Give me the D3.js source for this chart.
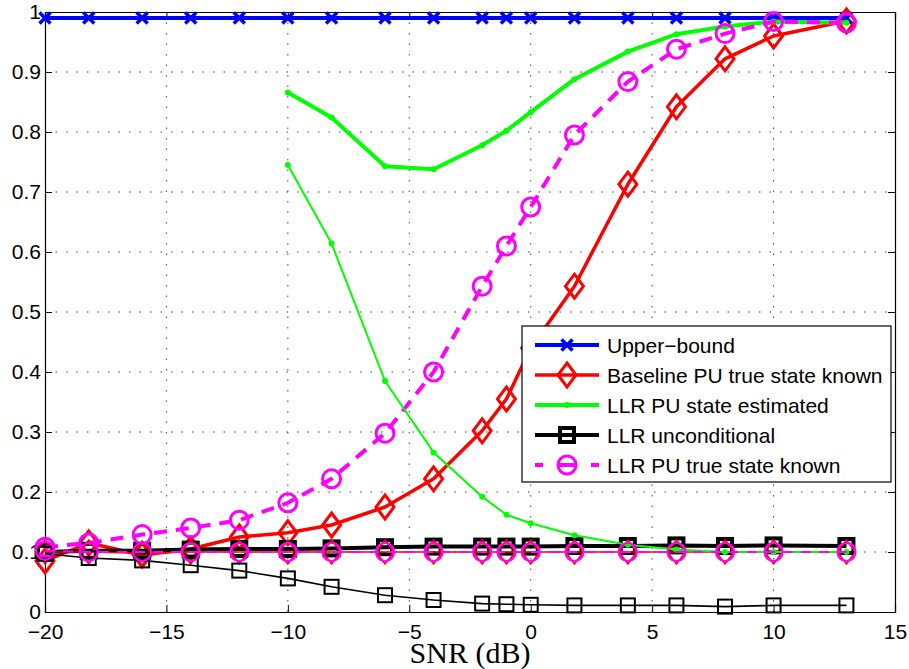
<!DOCTYPE html>
<html>
<head>
<meta charset="utf-8">
<script src="https://cdn.jsdelivr.net/npm/d3@7"></script>
<style>
  body { margin: 0; background: #fff; }
  svg { display: block; }
</style>
</head>
<body>
<div id="viz"></div>
<script>
const w = 909;
const h = 669;

// data
const snr = [-20, -18.2, -16, -14, -12, -10, -8.2, -6, -4, -2, -1, 0, 1.8, 4, 6, 8, 10, 13];
const snrEst = [-10, -8.2, -6, -4, -2, -1, 0, 1.8, 4, 6, 8, 10, 13];

const upperBound = [0.99, 0.99, 0.99, 0.99, 0.99, 0.99, 0.99, 0.99, 0.99, 0.99, 0.99, 0.99, 0.99, 0.99, 0.99, 0.99, 0.99, 0.99];
const baselineKnown = [0.085, 0.115, 0.095, 0.105, 0.125, 0.132, 0.145, 0.175, 0.222, 0.302, 0.355, 0.44, 0.543, 0.713, 0.842, 0.922, 0.96, 0.985];
const baselineKnownFa = [0.1, 0.1, 0.098, 0.1, 0.1, 0.1, 0.1, 0.1, 0.1, 0.1, 0.1, 0.1, 0.1, 0.1, 0.1, 0.1, 0.1, 0.1];
const llrEstimated = [0.866, 0.824, 0.743, 0.738, 0.778, 0.802, 0.833, 0.888, 0.934, 0.963, 0.976, 0.984, 0.982];
const llrEstimatedFa = [0.745, 0.614, 0.385, 0.266, 0.192, 0.162, 0.148, 0.128, 0.112, 0.104, 0.1, 0.1, 0.1];
const llrUncond = [0.1, 0.102, 0.102, 0.104, 0.105, 0.105, 0.106, 0.108, 0.109, 0.109, 0.109, 0.109, 0.11, 0.11, 0.111, 0.11, 0.111, 0.11];
const llrUncondFa = [0.097, 0.09, 0.086, 0.078, 0.069, 0.056, 0.042, 0.028, 0.02, 0.014, 0.013, 0.012, 0.011, 0.011, 0.011, 0.009, 0.011, 0.011];
const llrKnown = [0.108, 0.115, 0.129, 0.14, 0.153, 0.182, 0.222, 0.298, 0.4, 0.543, 0.61, 0.675, 0.795, 0.884, 0.938, 0.964, 0.984, 0.982];
const llrKnownFa = [0.102, 0.1, 0.1, 0.1, 0.1, 0.1, 0.1, 0.1, 0.1, 0.1, 0.1, 0.1, 0.1, 0.1, 0.1, 0.1, 0.1, 0.1];

const xTicks = [-20, -15, -10, -5, 0, 5, 10, 15];
const yTicks = [0, 0.1, 0.2, 0.3, 0.4, 0.5, 0.6, 0.7, 0.8, 0.9, 1];
const legendNames = ['Upper\u2212bound', 'Baseline PU true state known', 'LLR PU state estimated', 'LLR unconditional', 'LLR PU true state known'];

const pLeft = 45, pRight = 895, pTop = 12, pBottom = 612;

const x = d3.scaleLinear().domain([-20, 15]).range([pLeft, pRight]);
const y = d3.scaleLinear().domain([0, 1]).range([pBottom, pTop]);

const svg = d3.select('#viz').append('svg')
    .attr('width', w)
    .attr('height', h)
    .attr('font-family', '"Liberation Sans", Arial, sans-serif')

// grid
let grid = svg.append('g')
    .attr('stroke', '#444')
    .attr('stroke-width', 1)
    .attr('stroke-dasharray', '1.5,9')

grid.selectAll('.gx').data(xTicks.slice(1, -1)).join('line')
    .attr('class', 'gx')
    .attr('x1', d => x(d)).attr('x2', d => x(d))
    .attr('y1', pBottom).attr('y2', pTop)

grid.selectAll('.gy').data(yTicks.slice(1, -1)).join('line')
    .attr('class', 'gy')
    .attr('x1', pLeft).attr('x2', pRight)
    .attr('y1', d => y(d)).attr('y2', d => y(d))

// axes box with inward ticks on all sides
let axes = svg.append('g')

axes.append('g')
    .attr('transform', `translate(0,${pBottom})`)
    .call(d3.axisBottom(x).tickValues(xTicks).tickSize(-7).tickPadding(12)
        .tickFormat(d => d3.format('d')(d).replace('-', '\u2212')))
axes.append('g')
    .attr('transform', `translate(0,${pTop})`)
    .call(d3.axisTop(x).tickValues(xTicks).tickSize(-7).tickFormat(''))
axes.append('g')
    .attr('transform', `translate(${pLeft},0)`)
    .call(d3.axisLeft(y).tickValues(yTicks).tickSize(-7).tickPadding(4)
        .tickFormat(d => d === 0 || d === 1 ? String(d) : d3.format('.1f')(d)))
axes.append('g')
    .attr('transform', `translate(${pRight},0)`)
    .call(d3.axisRight(y).tickValues(yTicks).tickSize(-7).tickFormat(''))

axes.selectAll('.domain').attr('stroke', '#000').attr('stroke-width', 1.2)
axes.selectAll('.tick line').attr('stroke', '#000')
axes.selectAll('.tick text')
    .attr('font-family', '"Liberation Sans", Arial, sans-serif')
    .attr('font-size', 21)
    .attr('fill', '#000')

svg.append('text')
    .attr('x', (pLeft + pRight) / 2)
    .attr('y', 663)
    .attr('text-anchor', 'middle')
    .attr('font-family', '"Liberation Serif", "Times New Roman", serif')
    .attr('font-size', 30)
    .text('SNR (dB)')

// markers
function drawMarker(g, kind, cx, cy, color, sw) {
    if (kind === 'x') {
        const s = 5.5;
        g.append('path')
            .attr('d', `M${cx - s},${cy - s}L${cx + s},${cy + s}M${cx - s},${cy + s}L${cx + s},${cy - s}`)
            .attr('stroke', color).attr('stroke-width', sw).attr('fill', 'none')
    } else if (kind === 'd') {
        g.append('path')
            .attr('d', `M${cx},${cy - 12}L${cx + 9},${cy}L${cx},${cy + 12}L${cx - 9},${cy}Z`)
            .attr('stroke', color).attr('stroke-width', sw).attr('fill', 'none')
    } else if (kind === 's') {
        g.append('rect')
            .attr('x', cx - 7).attr('y', cy - 7).attr('width', 14).attr('height', 14)
            .attr('stroke', color).attr('stroke-width', sw).attr('fill', 'none')
    } else if (kind === 'o') {
        g.append('circle')
            .attr('cx', cx).attr('cy', cy).attr('r', 9)
            .attr('stroke', color).attr('stroke-width', sw).attr('fill', 'none')
    } else if (kind === '.') {
        g.append('circle')
            .attr('cx', cx).attr('cy', cy).attr('r', 3)
            .attr('fill', color)
    }
}

const series = [
    { xs: snr, ys: upperBound, color: '#0000ff', width: 4, marker: 'x', msw: 3.5, dash: null },
    { xs: snr, ys: baselineKnown, color: '#ff0000', width: 3.5, marker: 'd', msw: 3, dash: null },
    { xs: snrEst, ys: llrEstimated, color: '#00ff00', width: 4, marker: '.', msw: 0, dash: null },
    { xs: snr, ys: llrUncond, color: '#000000', width: 4, marker: 's', msw: 4, dash: null },
    { xs: snr, ys: llrKnown, color: '#ff00ff', width: 4, marker: 'o', msw: 3, dash: '13,9' },
    { xs: snr, ys: baselineKnownFa, color: '#ff0000', width: 1.6, marker: 'd', msw: 1.6, dash: null },
    { xs: snrEst, ys: llrEstimatedFa, color: '#00ff00', width: 2, marker: '.', msw: 0, dash: null },
    { xs: snr, ys: llrUncondFa, color: '#000000', width: 1.6, marker: 's', msw: 2, dash: null },
    { xs: snr, ys: llrKnownFa, color: '#ff00ff', width: 2, marker: 'o', msw: 2.2, dash: '10,8' }
];

const line = d3.line().x(d => x(d[0])).y(d => y(d[1]));

series.forEach(s => {
    const pts = s.xs.map((v, i) => [v, s.ys[i]]);
    const g = svg.append('g');
    g.append('path')
        .attr('d', line(pts))
        .attr('fill', 'none')
        .attr('stroke', s.color)
        .attr('stroke-width', s.width)
        .attr('stroke-linejoin', 'round')
        .attr('stroke-dasharray', s.dash)
    pts.forEach(p => drawMarker(g, s.marker, x(p[0]), y(p[1]), s.color, s.msw));
});

// legend
let legend = svg.append('g')

legend.append('rect')
    .attr('x', 522).attr('y', 326)
    .attr('width', 369).attr('height', 156)
    .attr('fill', '#fff')
    .attr('stroke', '#000')
    .attr('stroke-width', 1.2)

legendNames.forEach((name, i) => {
    const s = series[i];
    const ly = 345 + i * 30;
    legend.append('line')
        .attr('x1', 535).attr('x2', 599)
        .attr('y1', ly).attr('y2', ly)
        .attr('stroke', s.color)
        .attr('stroke-width', s.width)
        .attr('stroke-dasharray', s.dash ? '8,16,16,16,8' : null)
    drawMarker(legend, s.marker, 567, ly, s.color, s.msw);
    legend.append('text')
        .attr('x', 607).attr('y', ly + 7.5)
        .attr('font-size', 21)
        .text(name)
});
</script>
</body>
</html>
